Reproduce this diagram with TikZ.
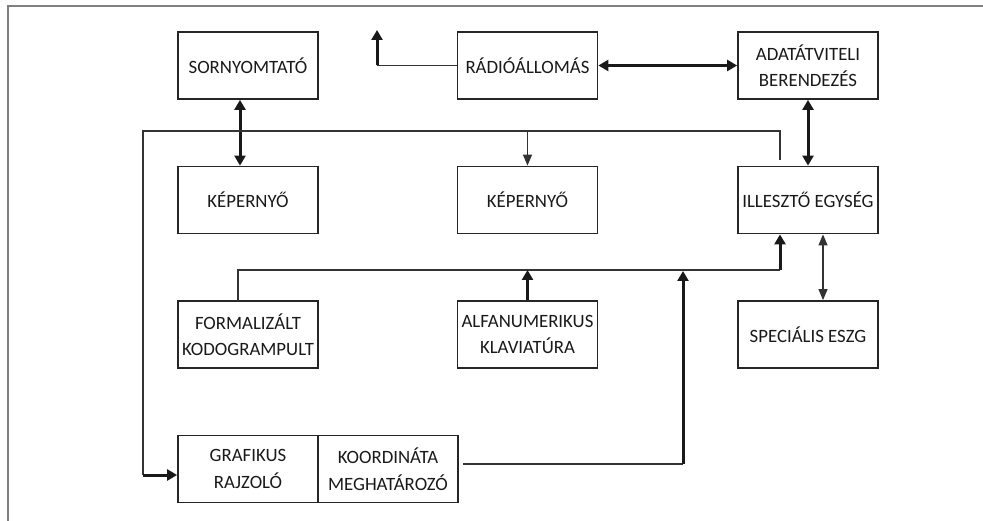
\documentclass[tikz,border=0pt]{standalone}
\usepackage{fontspec}
\setmainfont{Carlito}
\usetikzlibrary{arrows.meta,calc}
\begin{document}
\begin{tikzpicture}[x=1pt,y=-1pt,
  box/.style={draw=black!85,line width=1.8pt,minimum width=140pt,minimum height=67pt,inner sep=0pt,align=center,font=\fontsize{18.8}{26.5}\selectfont,text=black!90},
  thinline/.style={draw=black!80,line width=1.2pt},
  thickline/.style={draw=black!90,line width=3pt},
  thinarr/.style={thinline,-{Triangle[width=9pt,length=11pt]}},
  thinbiarr/.style={thinline,{Triangle[width=9pt,length=11pt]}-{Triangle[width=9pt,length=11pt]}},
  thickarr/.style={thickline,-{Triangle[width=11pt,length=10pt]}},
  thickbiarr/.style={thickline,{Triangle[width=11pt,length=10pt]}-{Triangle[width=11pt,length=10pt]}},
  frameline/.style={draw=black!50,line width=1.5pt}]
\useasboundingbox (0,0) rectangle (983,521);
% frame
\coordinate (fa) at (8,521);
\coordinate (fb) at (8,6);
\coordinate (fc) at (983,6);
\draw[frameline] (fa) -- (fb) -- (fc);
% boxes
\node[box] (sorn) at (248,65.5) {SORNYOMTATÓ};
\node[box] (radio) at (527.5,65.5) {RÁDIÓÁLLOMÁS};
\node[box] (adat) at (808,65.5) {ADATÁTVITELI\\BERENDEZÉS};
\node[box] (kep1) at (248,200) {KÉPERNYŐ};
\node[box] (kep2) at (527.5,200) {KÉPERNYŐ};
\node[box] (ill) at (808,200) {ILLESZTŐ EGYSÉG};
\node[box] (form) at (248,334.5) {FORMALIZÁLT\\KODOGRAMPULT};
\node[box] (alfa) at (527.5,334.5) {ALFANUMERIKUS\\KLAVIATÚRA};
\node[box] (spec) at (808,334.5) {SPECIÁLIS ESZG};
\node[box] (graf) at (248,469) {GRAFIKUS\\RAJZOLÓ};
\node[box] (koord) at (388,469) {KOORDINÁTA\\MEGHATÁROZÓ};
% coordinates
\coordinate (r1) at (377,65.5);
\coordinate (r2) at (377,30);
\coordinate (t0) at (780,160);
\coordinate (t1) at (780,131);
\coordinate (t2) at (143,131);
\coordinate (t3) at (143,475);
\coordinate (tb) at (527.5,131);
\coordinate (m0) at (238,301);
\coordinate (m1) at (238,270);
\coordinate (m2) at (780,270);
\coordinate (ma) at (527.5,270);
\coordinate (k0) at (463,464);
\coordinate (k1) at (683,464);
\coordinate (k2) at (683,271);
% connectors
\draw[thinline] (radio.west) -- (r1);
\draw[thickarr] (r1) -- (r2);
\draw[thickbiarr] (radio.east) -- (adat.west);
\draw[thickbiarr] (adat.south) -- (ill.north);
\draw[thickbiarr] ([xshift=-8pt]sorn.south) -- ([xshift=-8pt]kep1.north);
\draw[thinline] (t0) -- (t1) -- (t2) -- (t3);
\draw[thickarr] (t3) -- ([yshift=-6pt]graf.west);
\draw[thinarr] (tb) -- (kep2.north);
\draw[thinline] (m0) -- (m1) -- (m2);
\draw[thickarr] (m2) -- ([xshift=-28pt]ill.south);
\draw[thickarr] (alfa.north) -- (ma);
\draw[thinline] (k0) -- (k1);
\draw[thickarr] (k1) -- (k2);
\draw[thinbiarr] ([xshift=15pt]ill.south) -- ([xshift=15pt]spec.north);
\end{tikzpicture}
\end{document}
